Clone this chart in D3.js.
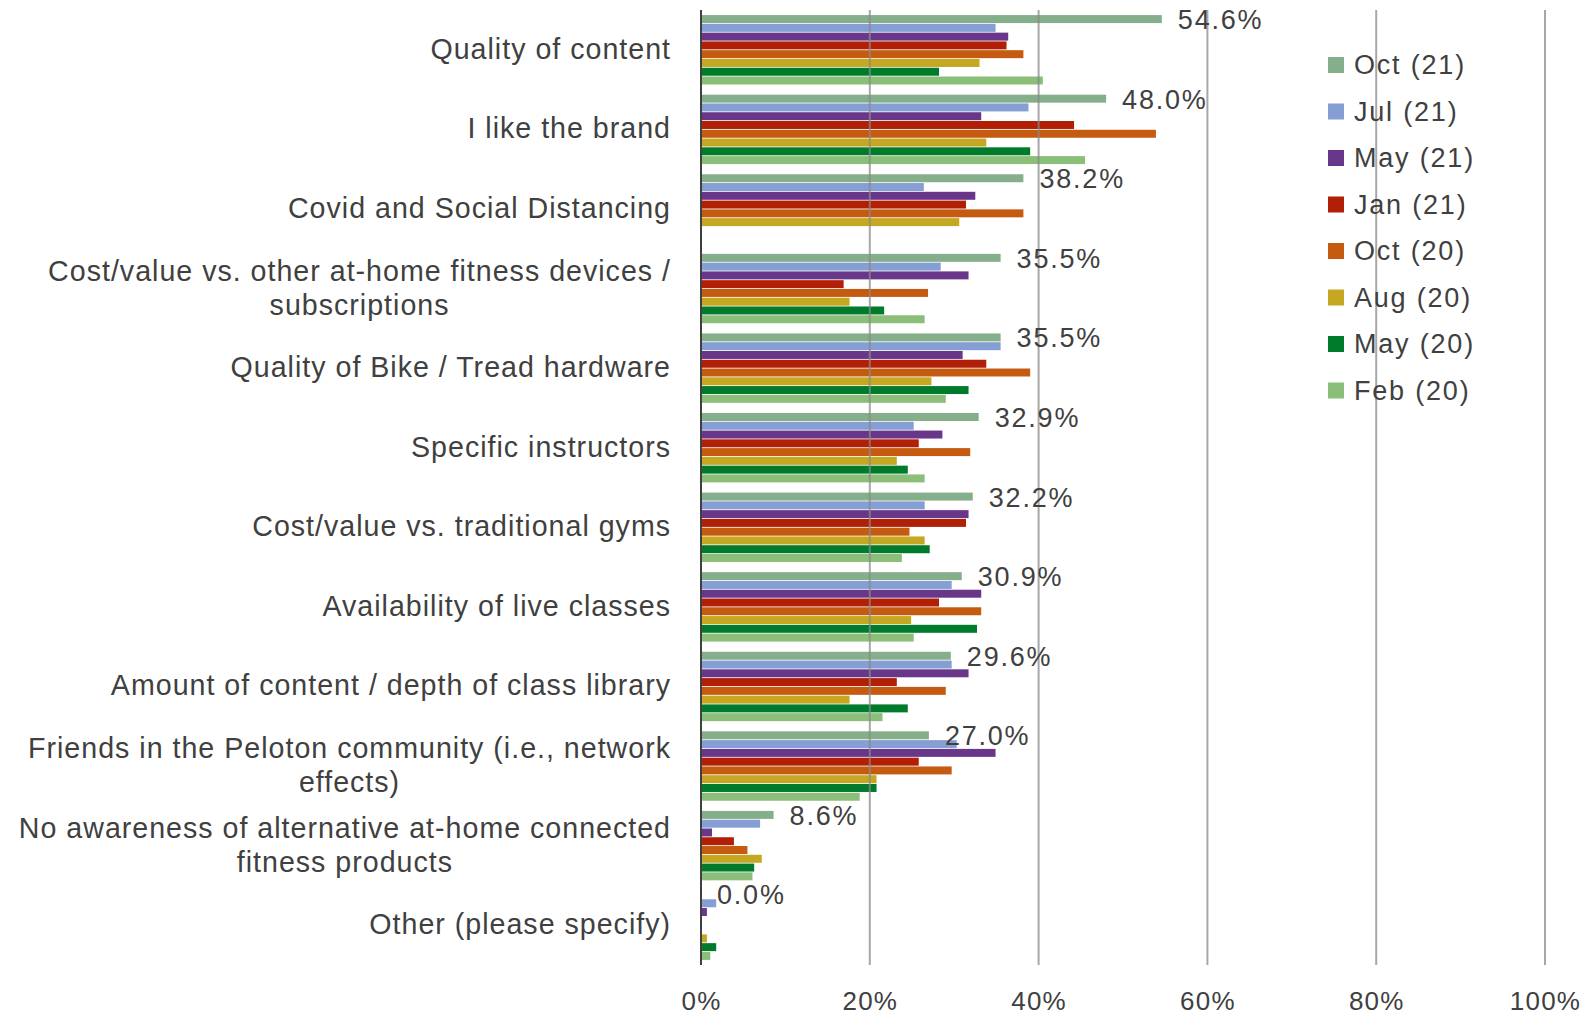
<!DOCTYPE html>
<html>
<head>
<meta charset="utf-8">
<script src="https://cdn.jsdelivr.net/npm/d3@7"></script>
<style>
  html, body { margin: 0; padding: 0; background: #ffffff; }
  svg { display: block; }
  text { font-family: "Liberation Sans", Arial, sans-serif; fill: #404040; }
</style>
</head>
<body>
<svg id="chart" width="1594" height="1016"></svg>
<script>
// Reasons for choosing the service, share of respondents (%) per survey wave
const categories = [
  "Quality of content",
  "I like the brand",
  "Covid and Social Distancing",
  "Cost/value vs. other at-home fitness devices / subscriptions",
  "Quality of Bike / Tread hardware",
  "Specific instructors",
  "Cost/value vs. traditional gyms",
  "Availability of live classes",
  "Amount of content / depth of class library",
  "Friends in the Peloton community (i.e., network effects)",
  "No awareness of alternative at-home connected fitness products",
  "Other (please specify)"
];

// Wrapped lines of each category label
const categoryLines = [
  ["Quality of content"],
  ["I like the brand"],
  ["Covid and Social Distancing"],
  ["Cost/value vs. other at-home fitness devices /", "subscriptions"],
  ["Quality of Bike / Tread hardware"],
  ["Specific instructors"],
  ["Cost/value vs. traditional gyms"],
  ["Availability of live classes"],
  ["Amount of content / depth of class library"],
  ["Friends in the Peloton community (i.e., network", "effects)"],
  ["No awareness of alternative at-home connected", "fitness products"],
  ["Other (please specify)"]
];

const seriesNames = ["Oct (21)", "Jul (21)", "May (21)", "Jan (21)", "Oct (20)", "Aug (20)", "May (20)", "Feb (20)"];
const seriesColors = ["#85ae8a", "#859ed3", "#68378a", "#b01f06", "#c55b10", "#c5a721", "#007a2b", "#8bbe79"];

const oct21 = [54.6, 48.0, 38.2, 35.5, 35.5, 32.9, 32.2, 30.9, 29.6, 27.0, 8.6, 0.0];
const jul21 = [34.9, 38.8, 26.4, 28.4, 35.5, 25.2, 26.5, 29.7, 29.7, 30.3, 7.0, 1.8];
const may21 = [36.4, 33.2, 32.5, 31.7, 31.0, 28.6, 31.7, 33.2, 31.7, 34.9, 1.3, 0.7];
const jan21 = [36.2, 44.2, 31.4, 16.9, 33.8, 25.8, 31.4, 28.2, 23.2, 25.8, 3.9, null];
const oct20 = [38.2, 53.9, 38.2, 26.9, 39.0, 31.9, 24.7, 33.2, 29.0, 29.7, 5.5, null];
const aug20 = [33.0, 33.8, 30.6, 17.6, 27.3, 23.2, 26.5, 24.9, 17.6, 20.8, 7.2, 0.7];
const may20 = [28.2, 39.0, null, 21.7, 31.7, 24.5, 27.1, 32.7, 24.5, 20.8, 6.3, 1.8];
const feb20 = [40.5, 45.5, null, 26.5, 29.0, 26.5, 23.8, 25.2, 21.5, 18.8, 6.1, 1.1];

const seriesValues = [oct21, jul21, may21, jan21, oct20, aug20, may20, feb20];

const xTicks = [0, 20, 40, 60, 80, 100];
const xTickLabels = ["0%", "20%", "40%", "60%", "80%", "100%"];

// Layout
const plotLeft = 701, plotRight = 1545, plotTop = 10, plotBottom = 965;
const labelRight = 671;

const svg = d3.select("#chart");

const x = d3.scaleLinear().domain([0, 100]).range([plotLeft, plotRight]);
const y = d3.scaleBand().domain(categories).range([plotTop, plotBottom])
  .paddingInner(0.118).paddingOuter(0.059);
const ySeries = d3.scaleBand().domain(seriesNames).range([0, y.bandwidth()]).padding(0);

// Bars
const groups = svg.append("g").selectAll("g")
  .data(categories)
  .join("g")
  .attr("transform", d => `translate(0,${y(d)})`);

groups.selectAll("rect")
  .data((c, i) => seriesNames.map((s, j) => ({ series: s, color: seriesColors[j], value: seriesValues[j][i] })))
  .join("rect")
  .filter(d => d.value !== null && d.value > 0)
  .attr("x", x(0))
  .attr("y", d => ySeries(d.series) + 0.4)
  .attr("width", d => x(d.value) - x(0))
  .attr("height", ySeries.bandwidth() - 0.8)
  .attr("fill", d => d.color);

// Vertical gridlines, drawn over the bars
const grid = svg.append("g");
grid.selectAll("line")
  .data(xTicks.filter(t => t > 0))
  .join("line")
  .attr("x1", d => x(d)).attr("x2", d => x(d))
  .attr("y1", plotTop).attr("y2", plotBottom)
  .attr("stroke", "#8a8a8a")
  .attr("stroke-opacity", 0.75)
  .attr("stroke-width", 2);

// Zero axis line
svg.append("line")
  .attr("x1", x(0)).attr("x2", x(0))
  .attr("y1", plotTop).attr("y2", plotBottom)
  .attr("stroke", "#404040")
  .attr("stroke-width", 2);

// X axis tick labels
const xAxis = d3.axisBottom(x)
  .tickValues(xTicks)
  .tickFormat((d, i) => xTickLabels[i])
  .tickSize(0)
  .tickPadding(0);
const xAxisG = svg.append("g")
  .attr("transform", `translate(0,${plotBottom + 27})`)
  .call(xAxis);
xAxisG.select(".domain").remove();
xAxisG.selectAll("text")
  .attr("fill", "#404040")
  .style("font-family", "'Liberation Sans', Arial, sans-serif")
  .style("font-size", "26px")
  .style("letter-spacing", "1.2px");

// Category labels (centred block, longest line ending at labelRight)
const lineHeight = 34;
const catLabels = svg.append("g").selectAll("text")
  .data(categories)
  .join("text")
  .attr("text-anchor", "middle")
  .attr("dominant-baseline", "central")
  .style("font-size", "28.6px")
  .style("letter-spacing", "1.0px");

catLabels.each(function(c, i) {
  const t = d3.select(this);
  const lines = categoryLines[i];
  const cy = y(c) + y.bandwidth() / 2 - 1;
  lines.forEach((ln, k) => {
    t.append("tspan")
      .attr("y", cy + (k - (lines.length - 1) / 2) * lineHeight)
      .text(ln);
  });
  let maxW = 0;
  t.selectAll("tspan").each(function() { maxW = Math.max(maxW, this.getComputedTextLength()); });
  t.selectAll("tspan").attr("x", labelRight - maxW / 2);
});

// Value labels for the latest wave
svg.append("g").selectAll("text")
  .data(categories)
  .join("text")
  .attr("x", (c, i) => x(oct21[i]) + 16)
  .attr("y", c => y(c) + ySeries(seriesNames[0]) + ySeries.bandwidth() / 2 + 1)
  .attr("dominant-baseline", "central")
  .style("font-size", "27px")
  .style("letter-spacing", "1.8px")
  .text((c, i) => oct21[i].toFixed(1) + "%");

// Legend
const legend = svg.append("g").attr("transform", "translate(1328,57)");
const legendRows = legend.selectAll("g")
  .data(seriesNames)
  .join("g")
  .attr("transform", (d, i) => `translate(0,${i * 46.5})`);
legendRows.append("rect")
  .attr("width", 16).attr("height", 16)
  .attr("fill", (d, i) => seriesColors[i]);
legendRows.append("text")
  .attr("x", 26).attr("y", 8)
  .attr("dominant-baseline", "central")
  .style("font-size", "27px")
  .style("letter-spacing", "1.8px")
  .text(d => d);
</script>
</body>
</html>
